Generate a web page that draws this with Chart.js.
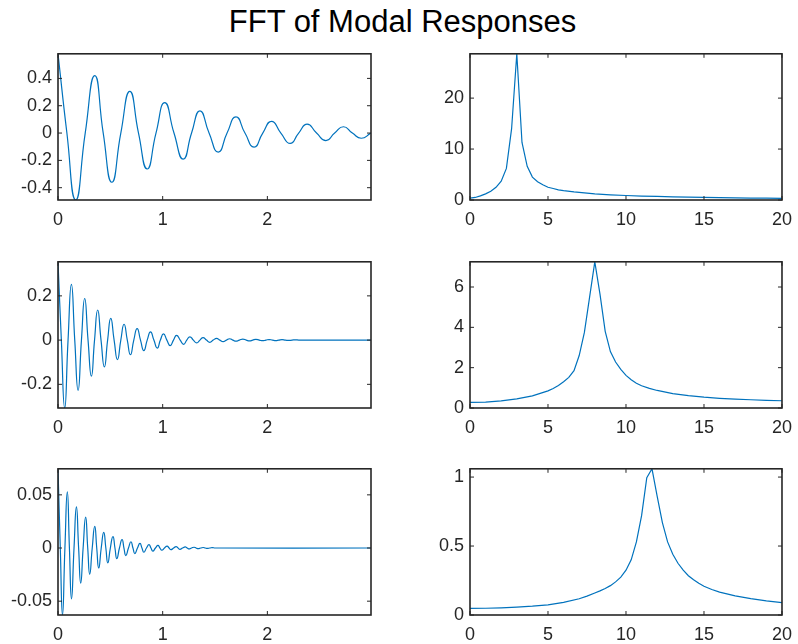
<!DOCTYPE html>
<html>
<head>
<meta charset="utf-8">
<script src="https://cdn.jsdelivr.net/npm/chart.js@4.4.1/dist/chart.umd.min.js"></script>
<style>
html, body { margin: 0; padding: 0; background: #ffffff; }
#fig { position: relative; width: 798px; height: 644px; background: #ffffff; overflow: hidden; }
#title { position: absolute; left: 0; top: 6px; width: 805px; text-align: center;
  font-family: "Liberation Sans", Arial, Helvetica, sans-serif; font-size: 31px; line-height: 31px; color: #000; }
canvas { position: absolute; }
</style>
</head>
<body>
<div id="fig"><div id="title">FFT of Modal Responses</div></div>
<script>
// ---------------- DATA ----------------
// Mode 1 time response (peaks, troughs, zero crossings)
const mode1PeakTime    = [0, 0.351, 0.686, 1.02, 1.356, 1.70, 2.04, 2.38, 2.727];
const mode1PeakValue   = [0.58, 0.42, 0.305, 0.223, 0.163, 0.118, 0.086, 0.065, 0.046];
const mode1TroughTime  = [0.169, 0.514, 0.852, 1.196, 1.531, 1.873, 2.218, 2.559, 2.897];
const mode1TroughValue = [-0.49, -0.36, -0.263, -0.191, -0.139, -0.103, -0.076, -0.055, -0.038];
const mode1ZeroTime    = [0.085, 0.26, 0.432, 0.6, 0.769, 0.936, 1.108, 1.276, 1.443, 1.615, 1.786, 1.956, 2.129, 2.299, 2.47, 2.643, 2.812, 2.99];

// Mode 2 time response
const mode2PeakTime    = [0, 0.128, 0.255, 0.379, 0.504, 0.631, 0.756, 0.884, 1.008, 1.133, 1.26, 1.386, 1.515, 1.64, 1.766, 1.89, 2.017, 2.14, 2.267];
const mode2PeakValue   = [0.354, 0.252, 0.188, 0.136, 0.0985, 0.0716, 0.052, 0.037, 0.028, 0.021, 0.015, 0.011, 0.008, 0.006, 0.0045, 0.0033, 0.0024, 0.0018, 0.0013];
const mode2TroughTime  = [0.064, 0.192, 0.319, 0.443, 0.568, 0.692, 0.82, 0.948, 1.072, 1.20, 1.325, 1.45, 1.577, 1.70, 1.83, 1.955, 2.08, 2.205];
const mode2TroughValue = [-0.307, -0.227, -0.163, -0.121, -0.088, -0.066, -0.048, -0.036, -0.025, -0.019, -0.013, -0.010, -0.007, -0.005, -0.0038, -0.0028, -0.002, -0.0015];
const mode2ZeroTime    = [0.032, 0.096, 0.16, 0.224, 0.287, 0.349, 0.411, 0.474, 0.536, 0.6, 0.662, 0.724, 0.788, 0.852, 0.916, 0.978, 1.04, 1.103, 1.167, 1.23, 1.293, 1.356, 1.418, 1.483, 1.546, 1.609, 1.67, 1.733, 1.798, 1.86, 1.923, 1.986, 2.049, 2.11, 2.173, 2.236, 2.3, 2.99];

// Mode 3 time response
const mode3PeakTime    = [0, 0.089, 0.176, 0.264, 0.351, 0.437, 0.525, 0.612, 0.697, 0.783, 0.869, 0.955, 1.042, 1.128, 1.215, 1.30, 1.388, 1.475];
const mode3PeakValue   = [0.0745, 0.0528, 0.0386, 0.029, 0.0204, 0.0148, 0.0108, 0.008, 0.0059, 0.0043, 0.0032, 0.0024, 0.0018, 0.0013, 0.001, 0.0007, 0.0005, 0.0004];
const mode3TroughTime  = [0.043, 0.129, 0.217, 0.303, 0.389, 0.476, 0.562, 0.648, 0.734, 0.82, 0.906, 0.992, 1.079, 1.165, 1.252, 1.338, 1.425];
const mode3TroughValue = [-0.063, -0.0478, -0.033, -0.0247, -0.0188, -0.0139, -0.0099, -0.0071, -0.0052, -0.004, -0.0029, -0.0021, -0.0016, -0.0012, -0.0009, -0.0006, -0.0004];
const mode3ZeroTime    = [0.022, 0.066, 0.109, 0.153, 0.197, 0.24, 0.284, 0.327, 0.37, 0.413, 0.457, 0.5, 0.544, 0.587, 0.63, 0.673, 0.716, 0.759, 0.802, 0.845, 0.888, 0.931, 0.974, 1.017, 1.061, 1.104, 1.147, 1.19, 1.234, 1.276, 1.319, 1.363, 1.407, 1.45, 1.5, 2.99];

// FFT magnitudes
const fft1Freq = [0, 0.333, 0.667, 1, 1.333, 1.667, 2, 2.333, 2.667, 3, 3.333, 3.667, 4, 4.333, 4.667, 5, 5.333, 5.667, 6, 6.667, 7.333, 8, 9, 10, 11, 12, 13, 14, 15, 16, 17, 18, 19, 20];
const fft1Mag  = [0.35, 0.5, 0.8, 1.2, 1.7, 2.5, 3.7, 6.2, 14.0, 28.7, 11.3, 6.6, 4.5, 3.6, 3.0, 2.5, 2.25, 2.0, 1.85, 1.6, 1.4, 1.2, 1.02, 0.88, 0.78, 0.7, 0.63, 0.56, 0.5, 0.46, 0.42, 0.38, 0.35, 0.32];

const fft2Freq = [0, 1, 2, 3, 4, 5, 5.333, 5.667, 6, 6.333, 6.667, 7, 7.333, 7.667, 8, 8.333, 8.667, 9, 9.333, 9.667, 10, 10.333, 10.667, 11, 11.5, 12, 13, 14, 15, 16, 17, 18, 19, 20];
const fft2Mag  = [0.28, 0.29, 0.35, 0.45, 0.6, 0.85, 0.97, 1.12, 1.3, 1.52, 1.85, 2.6, 3.75, 5.5, 7.25, 5.65, 3.8, 2.8, 2.28, 1.92, 1.62, 1.4, 1.23, 1.1, 0.97, 0.87, 0.71, 0.61, 0.535, 0.48, 0.44, 0.41, 0.38, 0.36];

const fft3Freq = [0, 1, 2, 3, 4, 5, 6, 7, 7.5, 8, 8.333, 8.667, 9, 9.333, 9.667, 10, 10.333, 10.667, 11, 11.333, 11.667, 12, 12.333, 12.667, 13, 13.333, 13.667, 14, 14.333, 14.667, 15, 15.5, 16, 17, 18, 19, 20];
const fft3Mag  = [0.048, 0.049, 0.052, 0.057, 0.064, 0.074, 0.091, 0.118, 0.137, 0.16, 0.175, 0.192, 0.213, 0.24, 0.275, 0.325, 0.4, 0.53, 0.72, 0.995, 1.06, 0.86, 0.67, 0.53, 0.44, 0.375, 0.325, 0.285, 0.255, 0.23, 0.208, 0.185, 0.166, 0.139, 0.119, 0.103, 0.09];

// Tick values and labels
const timeTicks = [0, 1, 2];
const timeTickLabels = ['0', '1', '2'];
const freqTicks = [0, 5, 10, 15, 20];
const freqTickLabels = ['0', '5', '10', '15', '20'];
const mode1Ticks = [-0.4, -0.2, 0, 0.2, 0.4];
const mode1TickLabels = ['-0.4', '-0.2', '0', '0.2', '0.4'];
const mode2Ticks = [-0.2, 0, 0.2];
const mode2TickLabels = ['-0.2', '0', '0.2'];
const mode3Ticks = [-0.05, 0, 0.05];
const mode3TickLabels = ['-0.05', '0', '0.05'];
const fft1Ticks = [0, 10, 20];
const fft1TickLabels = ['0', '10', '20'];
const fft2Ticks = [0, 2, 4, 6];
const fft2TickLabels = ['0', '2', '4', '6'];
const fft3Ticks = [0, 0.5, 1];
const fft3TickLabels = ['0', '0.5', '1'];

// ---------------- BUILD ----------------
function timeSeries(pt, pv, tt, tv, zt) {
  const pts = [];
  pt.forEach((t, i) => pts.push({ x: t, y: pv[i] }));
  tt.forEach((t, i) => pts.push({ x: t, y: tv[i] }));
  zt.forEach(t => pts.push({ x: t, y: 0 }));  // zero crossings
  pts.sort((a, b) => a.x - b.x);
  return pts;
}
function pairs(xs, ys) { return xs.map((x, i) => ({ x: x, y: ys[i] })); }

const FONT = { family: '"Liberation Sans", Arial, Helvetica, sans-serif', size: 18 };
const AX = '#262626';
const LINE = '#0072BD';
const ML = 60, MT = 14, MR = 16, MB = 34;

const matlabAxes = {
  id: 'matlabAxes',
  afterDatasetsDraw(chart, args, opts) {
    const { ctx, chartArea: a } = chart;
    const xs = chart.scales.x, ys = chart.scales.y;
    const L = opts.tickLen || 4;
    ctx.save();
    ctx.strokeStyle = AX;
    ctx.lineWidth = 1;
    ctx.beginPath();
    xs.ticks.forEach(t => {
      const p = xs.getPixelForValue(t.value);
      ctx.moveTo(p, a.bottom); ctx.lineTo(p, a.bottom - L);
      ctx.moveTo(p, a.top); ctx.lineTo(p, a.top + L);
    });
    ys.ticks.forEach(t => {
      const p = ys.getPixelForValue(t.value);
      ctx.moveTo(a.left, p); ctx.lineTo(a.left + L, p);
      ctx.moveTo(a.right, p); ctx.lineTo(a.right - L, p);
    });
    ctx.stroke();
    ctx.lineWidth = 1.6;
    ctx.strokeRect(a.left, a.top, a.right - a.left, a.bottom - a.top);
    ctx.restore();
  }
};

function makePanel(area, data, tension, yFloor, xTicks, xLabels, yTicks, yLabels) {
  const [l, t, r, b] = area;
  const cv = document.createElement('canvas');
  const W = (r - l) + ML + MR, H = (b - t) + MT + MB;
  cv.width = W; cv.height = H;
  cv.style.left = (l - ML) + 'px'; cv.style.top = (t - MT) + 'px';
  cv.style.width = W + 'px'; cv.style.height = H + 'px';
  document.getElementById('fig').appendChild(cv);
  const xv = data.map(p => p.x), yv = data.map(p => p.y);
  const yMin = (yFloor === null) ? Math.min(...yv) : yFloor;
  new Chart(cv, {
    type: 'line',
    data: { datasets: [{ data: data, borderColor: LINE, borderWidth: 1.2, pointRadius: 0, fill: false, tension: tension }] },
    plugins: [matlabAxes],
    options: {
      responsive: false, animation: false, devicePixelRatio: 1,
      layout: { padding: { top: MT, right: MR, left: 0, bottom: 0 } },
      plugins: { legend: { display: false }, tooltip: { enabled: false }, title: { display: false }, matlabAxes: { tickLen: 4 } },
      scales: {
        x: {
          type: 'linear', min: Math.min(...xv), max: Math.max(...xv),
          afterBuildTicks: s => { s.ticks = xTicks.map(v => ({ value: v })); },
          afterFit: s => { s.height = MB; },
          ticks: { callback: (v, i) => xLabels[i], font: FONT, color: AX, padding: 9, maxRotation: 0, autoSkip: false },
          grid: { display: false, drawTicks: false }, border: { display: false }
        },
        y: {
          type: 'linear', min: yMin, max: Math.max(...yv),
          afterBuildTicks: s => { s.ticks = yTicks.map(v => ({ value: v })); },
          afterFit: s => { s.width = ML; },
          ticks: { callback: (v, i) => yLabels[i], font: FONT, color: AX, padding: 6, autoSkip: false },
          grid: { display: false, drawTicks: false }, border: { display: false }
        }
      }
    }
  });
}

makePanel([58, 51, 371, 200], timeSeries(mode1PeakTime, mode1PeakValue, mode1TroughTime, mode1TroughValue, mode1ZeroTime), 0.55, null, timeTicks, timeTickLabels, mode1Ticks, mode1TickLabels);
makePanel([470, 51, 785, 200], pairs(fft1Freq, fft1Mag), 0, 0, freqTicks, freqTickLabels, fft1Ticks, fft1TickLabels);
makePanel([58, 259, 371, 408], timeSeries(mode2PeakTime, mode2PeakValue, mode2TroughTime, mode2TroughValue, mode2ZeroTime), 0.55, null, timeTicks, timeTickLabels, mode2Ticks, mode2TickLabels);
makePanel([470, 259, 785, 408], pairs(fft2Freq, fft2Mag), 0, 0, freqTicks, freqTickLabels, fft2Ticks, fft2TickLabels);
makePanel([58, 466, 371, 615], timeSeries(mode3PeakTime, mode3PeakValue, mode3TroughTime, mode3TroughValue, mode3ZeroTime), 0.55, null, timeTicks, timeTickLabels, mode3Ticks, mode3TickLabels);
makePanel([470, 466, 785, 615], pairs(fft3Freq, fft3Mag), 0, 0, freqTicks, freqTickLabels, fft3Ticks, fft3TickLabels);
</script>
</body>
</html>
